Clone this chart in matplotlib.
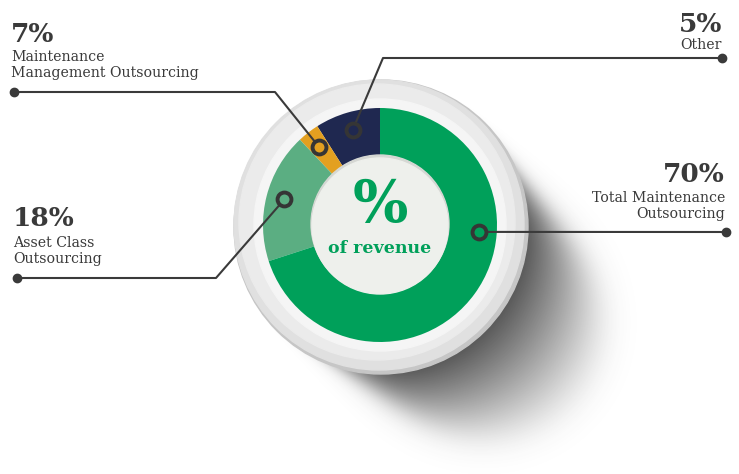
import matplotlib
matplotlib.use("Agg")
import matplotlib.pyplot as plt
from matplotlib.patches import Circle
import numpy as np

# slices, counter-clockwise from 12 o'clock
names = ["Other", "Maintenance\nManagement Outsourcing", "Asset Class\nOutsourcing",
         "Total Maintenance\nOutsourcing"]
pct_labels = ["5%", "7%", "18%", "70%"]
shares = [9, 3, 18, 70]          # slice sizes as drawn
colors = ["#1f2850", "#e3a020", "#5bae82", "#00a05a"]
marker_angles = [106, 128, 165, -4]

W, H = 739, 474
cx, cy = 380, H - 225
text_col = "#3a3a3a"
line_col = "#3a3a3a"

fig = plt.figure(figsize=(7.39, 4.74), dpi=100)
ax = fig.add_axes([0, 0, 1, 1])

# soft drop shadow towards lower right (decoration, built as an image)
yy, xx = np.mgrid[0:H, 0:W] + 0.5
shade = np.zeros((H, W))
steps = np.linspace(0, 1, 50)
for t in steps:
    sx, sy = cx + 4 + 108 * t, (H - cy) + 4 + 100 * t
    r = 143 - 24 * t
    d = np.hypot(xx - sx, yy - sy)
    shade += 1 / (1 + np.exp((d - r) / (2 + 7 * t)))
shade = 0.85 * shade / len(steps)
rgba = np.zeros((H, W, 4))
rgba[..., :3] = 0.22
rgba[..., 3] = shade
ax.imshow(rgba, extent=(0, W, 0, H), origin="upper", zorder=1, interpolation="bilinear")

# outer grey ring
ax.add_patch(Circle((cx + 1, cy - 2), 147, color="#c6c6c6", zorder=2))
ax.add_patch(Circle((cx - 1, cy), 145, color="#e0e0e0", zorder=2))
ax.add_patch(Circle((cx - 3, cy + 3), 138, color="#ebebeb", zorder=2))
ax.add_patch(Circle((cx, cy), 126, color="#f5f5f5", zorder=2))

wedges, _ = ax.pie(shares, colors=colors, startangle=90, counterclock=True,
                   center=(cx, cy), radius=117, frame=True,
                   wedgeprops=dict(width=49, linewidth=0))
for w in wedges:
    w.set_zorder(3)

# inner disc
ax.add_patch(Circle((cx, cy + 1), 69, color="#d6d8d4", zorder=4))
ax.add_patch(Circle((cx, cy - 1), 68, color="#eef0ec", zorder=4))

ax.text(cx, H - 206, "%", ha="center", va="center", fontsize=42,
        fontweight="bold", family="DejaVu Serif", color="#00a05a", zorder=5)
ax.text(cx, H - 248, "of revenue", ha="center", va="center", fontsize=12.5,
        fontweight="bold", family="DejaVu Serif", color="#00a05a", zorder=5)

# leader lines: corner and end point in picture pixels
paths = [[(383, 58), (722, 58)],
         [(275, 92), (14, 92)],
         [(216, 278), (17, 278)],
         [(726, 232)]]
r_mark = 99
for ang, col, pts in zip(marker_angles, colors, paths):
    a = np.deg2rad(ang)
    mx, my = cx + r_mark * np.cos(a), cy + r_mark * np.sin(a)
    xs = [mx] + [p[0] for p in pts]
    ys = [my] + [H - p[1] for p in pts]
    ax.plot(xs, ys, color=line_col, lw=1.5, zorder=6, solid_capstyle="round")
    ax.plot(xs[-1], ys[-1], "o", ms=6, color=line_col, zorder=7)
    ax.plot(mx, my, "o", ms=10, mfc=col, mec="#353535", mew=2.8, zorder=8)

# labels
big = dict(fontsize=19, fontweight="bold", color=text_col, family="DejaVu Serif")
small = dict(fontsize=10.2, color=text_col, family="DejaVu Serif", linespacing=1.1)
ax.text(722, H - 24, pct_labels[0], ha="right", va="center", **big)
ax.text(722, H - 45, names[0], ha="right", va="center", **small)
ax.text(11, H - 34, pct_labels[1], ha="left", va="center", **big)
ax.text(11, H - 65, names[1], ha="left", va="center", **small)
ax.text(13, H - 218, pct_labels[2], ha="left", va="center", **big)
ax.text(13, H - 251, names[2], ha="left", va="center", **small)
ax.text(725, H - 174, pct_labels[3], ha="right", va="center", **big)
ax.text(725, H - 206, names[3], ha="right", va="center", multialignment="right", **small)

ax.set_xlim(0, W)
ax.set_ylim(0, H)
ax.set_aspect("equal")
ax.axis("off")
fig.savefig("out.png", dpi=100, facecolor="white")
